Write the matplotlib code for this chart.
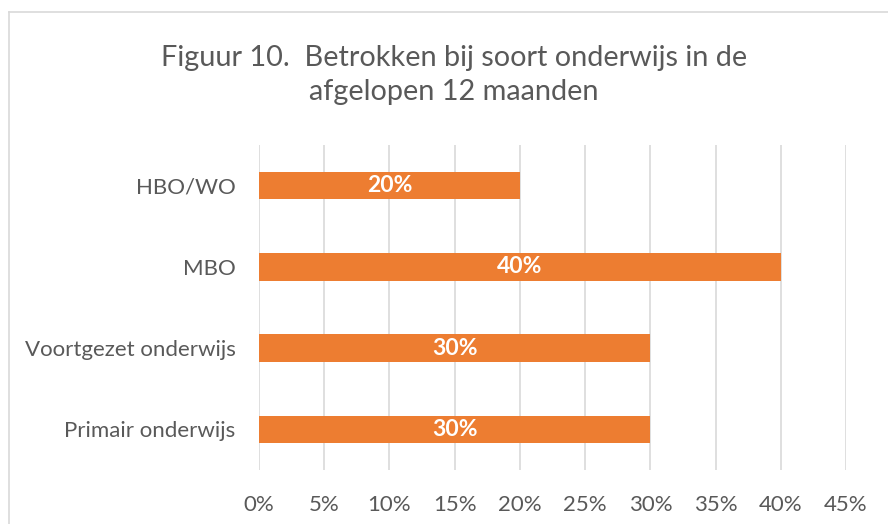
import matplotlib
matplotlib.use("Agg")
import matplotlib.pyplot as plt
from matplotlib.lines import Line2D

categories = ["Primair onderwijs", "Voortgezet onderwijs", "MBO", "HBO/WO"]
values = [30, 30, 40, 20]
xticks = [0, 5, 10, 15, 20, 25, 30, 35, 40, 45]
xtick_labels = [f"{t}%" for t in xticks]
title = "Figuur 10.  Betrokken bij soort onderwijs in de\nafgelopen 12 maanden"

FONT = "Lato"
GRAY = "#595959"
ORANGE = "#ED7D31"

W, H = 888, 524
fig = plt.figure(figsize=(W / 100, H / 100), dpi=100)
ax = fig.add_axes([259 / W, 1 - 470 / H, (846 - 259) / W, (470 - 145) / H])

y = list(range(len(categories)))
bars = ax.barh(y, values, height=0.34, color=ORANGE, zorder=3)
for yi, v in zip(y, values):
    ax.text(v / 2, yi, f"{v}%", ha="center", va="center", color="white",
            fontweight="bold", fontsize=16.5, family=FONT, zorder=4)

ax.set_xlim(0, 45)
ax.set_ylim(-0.5, len(categories) - 0.5)
ax.set_xticks(xticks)
ax.set_xticklabels(xtick_labels, family=FONT, fontsize=16, color=GRAY)
ax.tick_params(axis="both", length=0)
ax.set_yticks(y)
ax.set_yticklabels(categories, family=FONT, fontsize=16, color=GRAY)
ax.tick_params(axis="x", pad=18)
ax.tick_params(axis="y", pad=17)
ax.grid(axis="x", color="#D9D9D9", linewidth=1.2, zorder=0)
for s in ax.spines.values():
    s.set_visible(False)

fig.text(0.5 + 10 / W, 1 - 75 / H, title, ha="center", va="center",
         fontsize=20.8, color=GRAY, family=FONT, linespacing=1.4)

fig.add_artist(Line2D([9 / W, 1], [1 - 12 / H, 1 - 12 / H], transform=fig.transFigure,
                      color="#D9D9D9", linewidth=1.2))
fig.add_artist(Line2D([9 / W, 9 / W], [0, 1 - 12 / H], transform=fig.transFigure,
                      color="#D9D9D9", linewidth=1.2))

fig.savefig("out.png", dpi=100)
